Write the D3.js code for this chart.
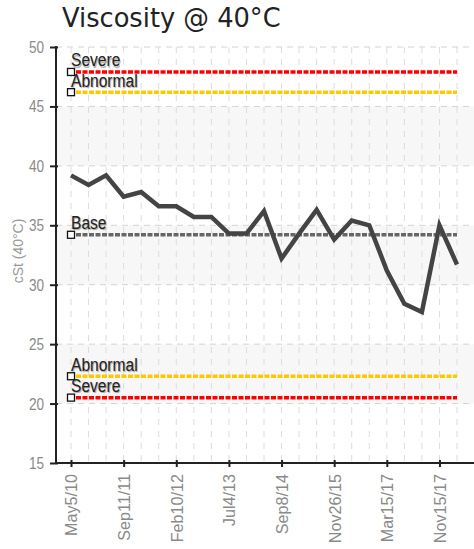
<!DOCTYPE html>
<html>
<head>
<meta charset="utf-8">
<script src="https://cdn.jsdelivr.net/npm/d3@7"></script>
<style>
  body { margin: 0; background: #fff; }
  svg { display: block; }
  .narrow { font-family: "Liberation Sans", Arial, sans-serif; }
  .ref-label { text-shadow: 1px 1px 1px rgba(0,0,0,0.35); }
</style>
</head>
<body>
<svg id="chart" width="474" height="549"></svg>
<script>
// sample dates, only every third one is labelled on the axis
var dates = ["May5/10", "", "", "Sep11/11", "", "", "Feb10/12", "", "", "Jul4/13", "", "",
             "Sep8/14", "", "", "Nov26/15", "", "", "Mar15/17", "", "", "Nov15/17", ""];

// viscosity readings, cSt @ 40°C
var viscosity = [39.2, 38.4, 39.2, 37.4, 37.8, 36.6, 36.6, 35.7, 35.7, 34.3, 34.3, 36.2,
                 32.2, 34.3, 36.3, 33.8, 35.4, 35.0, 31.2, 28.4, 27.7, 35.0, 31.7];

// limit lines
var limitNames  = ["Severe", "Abnormal", "Base", "Abnormal", "Severe"];
var limitValues = [47.9, 46.2, 34.2, 22.3, 20.5];
var limitColors = ["#ff0000", "#ffc800", "#666666", "#ffc800", "#ff0000"];

var yTicks = [15, 20, 25, 30, 35, 40, 45, 50];

var svg = d3.select('#chart');

var plot = {left: 56, right: 474, top: 47, bottom: 463};

var x = d3.scalePoint()
    .domain(d3.range(viscosity.length))
    .range([71, 457]);

var y = d3.scaleLinear()
    .domain([15, 50])
    .range([plot.bottom, plot.top]);

// alternating bands
svg.append('g')
    .selectAll('rect')
    .data([[40, 45], [30, 35], [20, 25]])
    .enter().append('rect')
    .attr('x', plot.left)
    .attr('width', plot.right - plot.left)
    .attr('y', function(d) { return y(d[1]) })
    .attr('height', function(d) { return y(d[0]) - y(d[1]) })
    .attr('fill', '#f7f7f7');

// grid
svg.append('g')
    .selectAll('line')
    .data(yTicks.slice(1))
    .enter().append('line')
    .attr('x1', plot.left).attr('x2', plot.right)
    .attr('y1', function(d) { return y(d) })
    .attr('y2', function(d) { return y(d) })
    .attr('stroke', '#d4d4d4')
    .attr('stroke-dasharray', '6,5');

svg.append('g')
    .selectAll('line')
    .data(x.domain())
    .enter().append('line')
    .attr('x1', function(d) { return x(d) })
    .attr('x2', function(d) { return x(d) })
    .attr('y1', plot.top).attr('y2', plot.bottom)
    .attr('stroke', '#dcdcdc')
    .attr('stroke-dasharray', '6,6');

// y axis
var yAxis = svg.append('g')
    .attr('transform', 'translate(' + plot.left + ',0)')
    .call(d3.axisLeft(y).tickValues(yTicks).tickSize(6));

yAxis.select('.domain').attr('stroke', '#222').attr('stroke-width', 2)
    .attr('d', 'M0,' + (plot.top - 1) + 'V' + plot.bottom);
yAxis.selectAll('.tick line').attr('stroke', '#222').attr('stroke-width', 2).attr('x2', -6).attr('x1', 2);
yAxis.selectAll('.tick text')
    .attr('class', 'narrow')
    .attr('fill', '#8a8a8a')
    .style('font-size', '17px')
    .attr('x', 0)
    .attr('transform', 'translate(-12,0) scale(0.8,1)');

// x axis
var xAxis = svg.append('g')
    .attr('transform', 'translate(0,' + plot.bottom + ')')
    .call(d3.axisBottom(x)
        .tickValues(x.domain().filter(function(i) { return dates[i] }))
        .tickFormat(function(i) { return dates[i] })
        .tickSize(4));

xAxis.select('.domain').attr('stroke', '#222').attr('stroke-width', 2)
    .attr('d', 'M' + plot.left + ',0H' + plot.right);
xAxis.selectAll('.tick line').attr('stroke', '#222').attr('stroke-width', 2).attr('y1', -3);
xAxis.selectAll('.tick text')
    .attr('class', 'narrow')
    .attr('fill', '#8a8a8a')
    .style('font-size', '17px')
    .attr('text-anchor', 'end')
    .attr('dy', '0.35em')
    .attr('transform', 'translate(0,11) rotate(-90) scale(0.95,1)')
    .attr('x', 0).attr('y', 0);

// y axis title
svg.append('text')
    .attr('class', 'narrow')
    .attr('transform', 'translate(23,251) rotate(-90)')
    .attr('text-anchor', 'middle')
    .attr('fill', '#999')
    .style('font-size', '14px')
    .text('cSt (40°C)');

// limit lines
var limits = svg.append('g')
    .selectAll('g')
    .data(limitValues)
    .enter().append('g');

limits.append('line')
    .attr('x1', x(0) + 5)
    .attr('x2', x(viscosity.length - 1))
    .attr('y1', function(d) { return y(d) })
    .attr('y2', function(d) { return y(d) })
    .attr('stroke', function(d, i) { return limitColors[i] })
    .attr('stroke-width', 3.5)
    .attr('stroke-dasharray', '5,1.5');

limits.append('rect')
    .attr('x', x(0) - 3.5)
    .attr('y', function(d) { return y(d) - 3.5 })
    .attr('width', 7).attr('height', 7)
    .attr('fill', '#fff')
    .attr('stroke', '#111')
    .attr('stroke-width', 1.3);

limits.append('text')
    .attr('class', 'narrow ref-label')
    .attr('transform', function(d) { return 'translate(' + x(0) + ',' + (y(d) - 5.5) + ') scale(0.82,1)' })
    .attr('fill', '#222')
    .style('font-size', '19px')
    .text(function(d, i) { return limitNames[i] });

// data line
svg.append('path')
    .datum(viscosity)
    .attr('fill', 'none')
    .attr('stroke', '#444')
    .attr('stroke-width', 4.5)
    .attr('stroke-linejoin', 'miter')
    .attr('d', d3.line()
        .x(function(d, i) { return x(i) })
        .y(function(d) { return y(d) }));

// title
svg.append('text')
    .attr('x', 62)
    .attr('y', 27)
    .attr('fill', '#222')
    .style('font-family', '"DejaVu Sans", Verdana, sans-serif')
    .style('font-size', '25.7px')
    .text('Viscosity @ 40°C');
</script>
</body>
</html>
